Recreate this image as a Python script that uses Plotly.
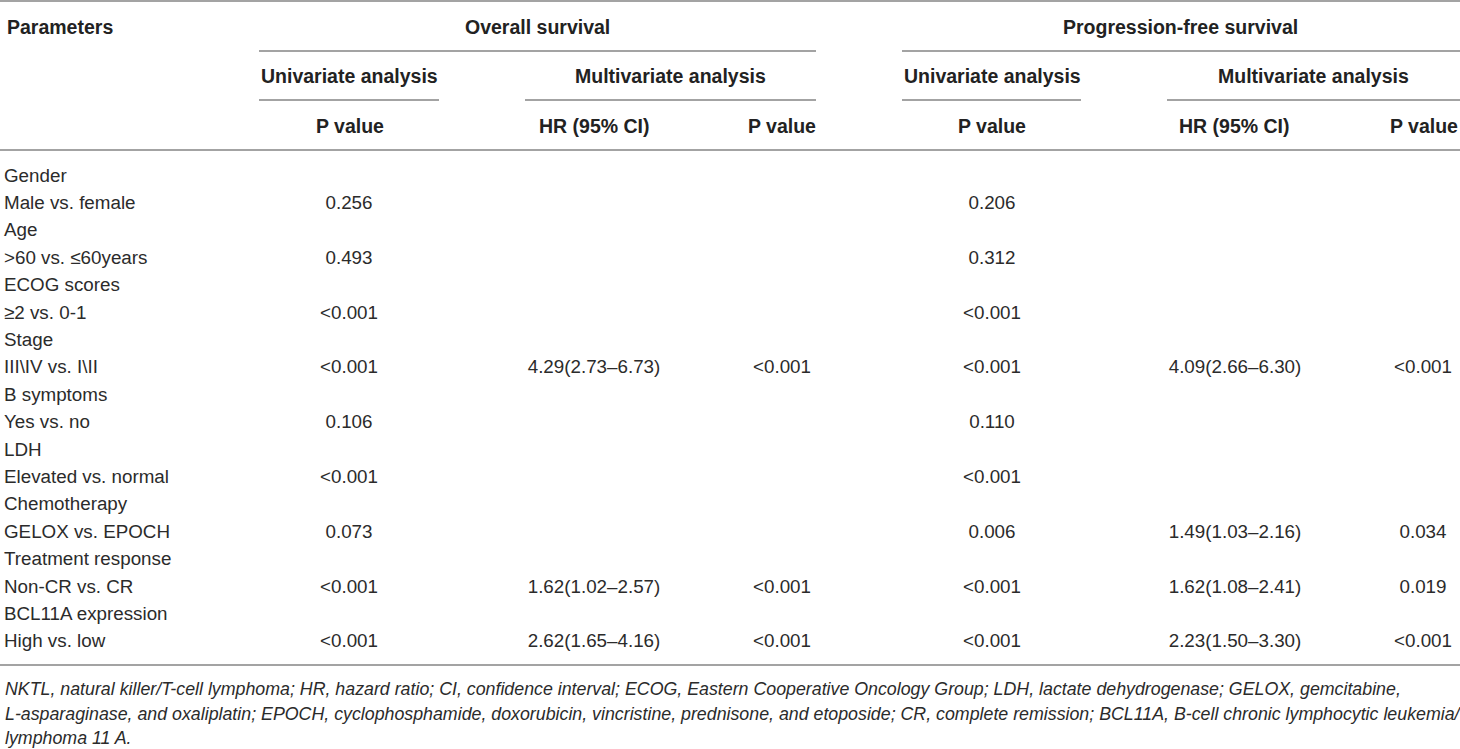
import plotly.graph_objects as go

# table body, one entry per row
row_labels = [
    "Gender", "Male vs. female", "Age", ">60 vs. ≤60years", "ECOG scores",
    "≥2 vs. 0-1", "Stage", "III\\IV vs. I\\II", "B symptoms", "Yes vs. no",
    "LDH", "Elevated vs. normal", "Chemotherapy", "GELOX vs. EPOCH",
    "Treatment response", "Non-CR vs. CR", "BCL11A expression", "High vs. low",
]
os_uni_p = ["", "0.256", "", "0.493", "", "<0.001", "", "<0.001", "", "0.106",
            "", "<0.001", "", "0.073", "", "<0.001", "", "<0.001"]
os_multi_hr = ["", "", "", "", "", "", "", "4.29(2.73–6.73)", "", "",
               "", "", "", "", "", "1.62(1.02–2.57)", "", "2.62(1.65–4.16)"]
os_multi_p = ["", "", "", "", "", "", "", "<0.001", "", "",
              "", "", "", "", "", "<0.001", "", "<0.001"]
pfs_uni_p = ["", "0.206", "", "0.312", "", "<0.001", "", "<0.001", "", "0.110",
             "", "<0.001", "", "0.006", "", "<0.001", "", "<0.001"]
pfs_multi_hr = ["", "", "", "", "", "", "", "4.09(2.66–6.30)", "", "",
                "", "", "", "1.49(1.03–2.16)", "", "1.62(1.08–2.41)", "", "2.23(1.50–3.30)"]
pfs_multi_p = ["", "", "", "", "", "", "", "<0.001", "", "",
               "", "", "", "0.034", "", "0.019", "", "<0.001"]

footnote_lines = [
    "NKTL, natural killer/T-cell lymphoma; HR, hazard ratio; CI, confidence interval; ECOG, Eastern Cooperative Oncology Group; LDH, lactate dehydrogenase; GELOX, gemcitabine,",
    "L-asparaginase, and oxaliplatin; EPOCH, cyclophosphamide, doxorubicin, vincristine, prednisone, and etoposide; CR, complete remission; BCL11A, B-cell chronic lymphocytic leukemia/",
    "lymphoma 11 A.",
]

W, H = 1460, 749
FONT = "Liberation Sans, Arial, Helvetica, sans-serif"
TXT = "#2b2b2b"
RULE = "#a3a3a3"
FS = 18.8
HFS = 19.5

ROW_TOP, ROW_STEP = 177, 27.4
row_y = [ROW_TOP + i * ROW_STEP for i in range(len(row_labels))]

# column centres (pixel space)
col_x = {"os_uni": 349, "os_hr": 594, "os_p": 782, "pfs_uni": 992, "pfs_hr": 1235, "pfs_p": 1423}


def esc(s):
    return s.replace("<", "&lt;").replace(">", "&gt;")


fig = go.Figure()

fig.add_trace(go.Scatter(
    x=[4] * len(row_labels), y=row_y, mode="text", cliponaxis=False,
    text=[esc(t) for t in row_labels], textposition="middle right",
    textfont=dict(family=FONT, size=FS, color=TXT), hoverinfo="skip",
))

for key, col in [("os_uni", os_uni_p), ("os_hr", os_multi_hr), ("os_p", os_multi_p),
                 ("pfs_uni", pfs_uni_p), ("pfs_hr", pfs_multi_hr), ("pfs_p", pfs_multi_p)]:
    fig.add_trace(go.Scatter(
        x=[col_x[key]] * len(col), y=row_y, mode="text", cliponaxis=False,
        text=[esc(t) for t in col], textposition="middle center",
        textfont=dict(family=FONT, size=FS, color=TXT), hoverinfo="skip",
    ))

# header texts
hdr = [
    ("Parameters", 5, 27, "left"),
    ("Overall survival", 537, 27, "center"),
    ("Progression-free survival", 1180, 27, "center"),
    ("Univariate analysis", 349, 76, "center"),
    ("Multivariate analysis", 670, 76, "center"),
    ("Univariate analysis", 992, 76, "center"),
    ("Multivariate analysis", 1313, 76, "center"),
    ("P value", 350, 126, "center"),
    ("HR (95% CI)", 594, 126, "center"),
    ("P value", 782, 126, "center"),
    ("P value", 992, 126, "center"),
    ("HR (95% CI)", 1234, 126, "center"),
    ("P value", 1424, 126, "center"),
]
for text, x, y, anchor in hdr:
    fig.add_annotation(x=x, y=y, xref="x", yref="y", text="<b>%s</b>" % text,
                       showarrow=False, xanchor=anchor, yanchor="middle",
                       font=dict(family=FONT, size=HFS, color="#222222"))

for i, line in enumerate(footnote_lines):
    fig.add_annotation(x=3, y=689 + i * 24.5, xref="x", yref="y", text="<i>%s</i>" % line,
                       showarrow=False, xanchor="left", yanchor="middle",
                       font=dict(family=FONT, size=17.8, color=TXT))

# rules
rules = [
    (0, W, 1), (259, 816, 51), (902, W, 51),
    (259, 439, 100), (525, 816, 100), (902, 1081, 100), (1167, W, 100),
    (0, W, 150), (0, W, 665),
]
for x0, x1, y in rules:
    fig.add_shape(type="line", xref="x", yref="y", x0=x0, x1=x1, y0=y, y1=y,
                  line=dict(color=RULE, width=2))

fig.update_layout(
    width=W, height=H, margin=dict(l=0, r=0, t=0, b=0),
    paper_bgcolor="white", plot_bgcolor="white", showlegend=False,
    xaxis=dict(range=[0, W], visible=False, fixedrange=True),
    yaxis=dict(range=[H, 0], visible=False, fixedrange=True),
)

fig.write_html("out.html", config={"displayModeBar": False},
               post_script="document.body.style.margin='0';document.body.style.overflow='hidden';")
